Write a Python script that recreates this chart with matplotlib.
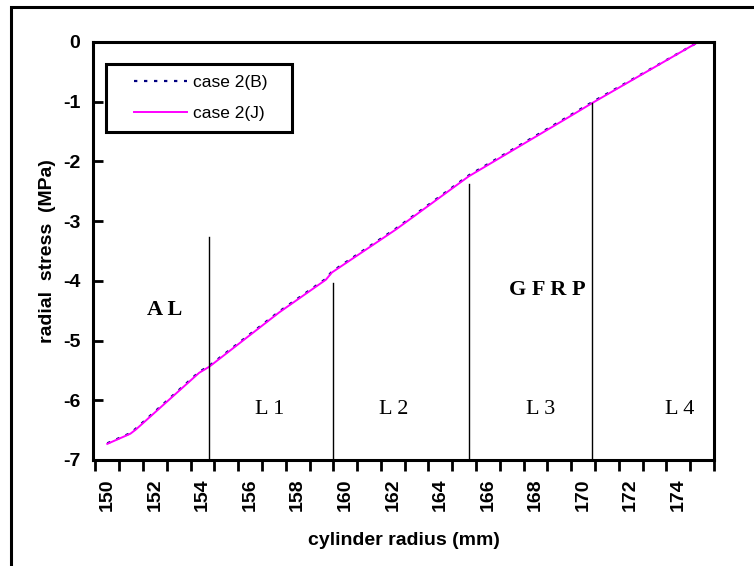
import numpy as np
import matplotlib
matplotlib.use("Agg")
from matplotlib import pyplot as plt
from matplotlib.patches import Rectangle

# Radial stress through the wall
radius = [150.0, 150.97, 151.2, 153.86, 154.28, 157.22, 159.19, 159.44,
          162.13, 165.19, 169.26, 170.39, 174.84]
stress_j = [-6.73, -6.56, -6.49, -5.54, -5.44, -4.53, -3.98, -3.86,
            -3.14, -2.25, -1.29, -1.02, 0.0]
stress_b = [-6.72, -6.55, -6.475, -5.525, -5.425, -4.515, -3.965, -3.845,
            -3.125, -2.235, -1.275, -1.005, 0.0]

# Layer interfaces and how high each divider reaches
interfaces = [154.28, 159.48, 165.19, 170.39]
divider_tops = [-3.27, -4.04, -2.37, -1.02]

layer_names = ["L 1", "L 2", "L 3", "L 4"]
layer_x = [156.84, 162.04, 168.21, 174.05]

x_labels = list(range(150, 176, 2))
y_ticks = list(range(-7, 1))

plt.rcParams["font.family"] = ["Liberation Sans", "DejaVu Sans"]

W, H = 754, 566
fig = plt.figure(figsize=(W / 100, H / 100), dpi=100)
ax = fig.add_axes([93 / W, 1 - 460 / H, (714 - 93) / W, (460 - 42) / H])

# Outer frame around the chart
fig.patches.append(Rectangle((11 / W, -0.05), 1.2, 1 - 7 / H + 0.05,
                             transform=fig.transFigure, fill=False,
                             edgecolor="black", linewidth=2.2))

ax.plot(radius, stress_b, color="#000080", linestyle=(0, (1.5, 3)),
        linewidth=1.6, label="case 2(B)")
ax.plot(radius, stress_j, color="#ff00ff", linewidth=1.4, label="case 2(J)")

for xi, top in zip(interfaces, divider_tops):
    ax.plot([xi, xi], [-7, top], color="black", linewidth=1.0)

# Annotations
serif = ["Liberation Serif", "DejaVu Serif"]
ax.text(152.39, -4.48, "A L", family=serif, fontsize=16, fontweight="bold",
        ha="center", va="center")
ax.text(168.51, -4.16, "G F R P", family=serif, fontsize=16, fontweight="bold",
        ha="center", va="center")
for name, xi in zip(layer_names, layer_x):
    ax.text(xi, -6.16, name, family=serif, fontsize=16, ha="center", va="center")

# Axes
ax.set_xlim(149.4, 175.5)
ax.set_ylim(-7, 0)
ax.set_xticks(x_labels)
ax.set_xticklabels([str(v) for v in x_labels], rotation=90,
                   fontsize=14, fontweight="bold")
ax.set_xticks(np.arange(149.5, 175.6, 1.0), minor=True)
ax.tick_params(axis="x", which="major", length=0, pad=13)
ax.tick_params(axis="x", which="minor", length=8, width=2, direction="out")
ax.set_yticks(y_ticks)
ax.set_yticklabels([str(v) for v in y_ticks], fontsize=14, fontweight="bold")
ax.tick_params(axis="y", length=7, width=2, direction="in", pad=9)

for side in ["left", "bottom", "top", "right"]:
    ax.spines[side].set_linewidth(2.2)

ax.set_xlabel("cylinder radius (mm)", fontsize=14, fontweight="bold", labelpad=15)
ax.set_ylabel("radial  stress  (MPa)", fontsize=14, fontweight="bold", labelpad=5)

# Legend: entries without frame, box drawn separately (wide left margin)
ax.legend(loc="upper left", bbox_to_anchor=(134 / W, 1 - 75 / H),
          bbox_transform=fig.transFigure, frameon=False,
          fontsize=12.5, handlelength=3.05, handletextpad=0.35,
          borderpad=0, labelspacing=0.92, borderaxespad=0)
ax.add_patch(Rectangle((106 / W, 1 - 132 / H), (292 - 106) / W, (132 - 64) / H,
                       transform=fig.transFigure, facecolor="white",
                       edgecolor="black", linewidth=2.2, zorder=4, clip_on=False))

fig.savefig("out.png", dpi=100)
